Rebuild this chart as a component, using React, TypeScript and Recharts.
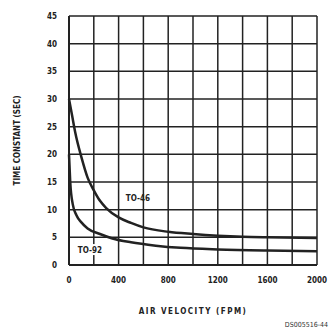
import { CartesianGrid, Line, LineChart, ReferenceDot, XAxis, YAxis } from "recharts";

// air velocity (FPM) vs time constant (sec)
const to46 = [
  { v: 0, t: 30 }, { v: 25, t: 27 }, { v: 50, t: 24 }, { v: 100, t: 19.5 },
  { v: 150, t: 15.8 }, { v: 200, t: 13.5 }, { v: 250, t: 11.6 }, { v: 300, t: 10.3 },
  { v: 400, t: 8.6 }, { v: 500, t: 7.6 }, { v: 600, t: 6.8 }, { v: 800, t: 6.0 },
  { v: 1000, t: 5.6 }, { v: 1200, t: 5.3 }, { v: 1400, t: 5.1 }, { v: 1600, t: 5.0 },
  { v: 2000, t: 4.9 },
];

const to92 = [
  { v: 0, t: 20 }, { v: 10, t: 15 }, { v: 30, t: 11 }, { v: 60, t: 9 },
  { v: 100, t: 7.7 }, { v: 150, t: 6.6 }, { v: 250, t: 5.6 }, { v: 350, t: 4.8 },
  { v: 500, t: 4.1 }, { v: 700, t: 3.5 }, { v: 900, t: 3.1 }, { v: 1200, t: 2.8 },
  { v: 1600, t: 2.6 }, { v: 2000, t: 2.5 },
];

const xTicks = [0, 200, 400, 600, 800, 1000, 1200, 1400, 1600, 1800, 2000];
const yTicks = [0, 5, 10, 15, 20, 25, 30, 35, 40, 45];

const font = "'DejaVu Sans Condensed', 'Liberation Sans', sans-serif";
const ink = "#222";

// curve name written on a white patch so the grid doesn't run through it
function BoxLabel(props: any) {
  const { viewBox, value } = props;
  const cx = viewBox.x;
  const cy = viewBox.y;
  return (
    <g>
      <rect x={cx - 16} y={cy - 6} width={32} height={11} fill="#fff" />
      <text x={cx} y={cy + 3} textAnchor="middle" fill={ink} fontSize={8} fontWeight="bold" fontFamily={font}>
        {value}
      </text>
    </g>
  );
}

export default function App() {
  return (
    <div style={{ position: "absolute", left: 0, top: 0, width: 330, height: 334, background: "#fff", fontFamily: font }}>
      <LineChart width={330} height={334} margin={{ top: 16, right: 13, left: 20, bottom: 39 }}>
        <CartesianGrid stroke={ink} strokeWidth={1.5} horizontalValues={yTicks} verticalValues={xTicks} />
        <XAxis
          dataKey="v"
          type="number"
          domain={[0, 2000]}
          ticks={xTicks}
          height={30}
          tickFormatter={(v: number) => (v % 400 === 0 ? String(v) : "")}
          tickLine={false}
          tickSize={0}
          tickMargin={12}
          stroke={ink}
          strokeWidth={2}
          tick={{ fill: ink, fontSize: 8, fontWeight: "bold", fontFamily: font }}
          allowDuplicatedCategory={false}
          label={{ value: "AIR VELOCITY (FPM)", position: "insideBottom", offset: -19, fill: ink, fontSize: 8, fontWeight: "bold", letterSpacing: 1.5, fontFamily: font }}
        />
        <YAxis
          dataKey="t"
          type="number"
          domain={[0, 45]}
          ticks={yTicks}
          width={49}
          tickLine={false}
          tickSize={0}
          tickMargin={12}
          stroke={ink}
          strokeWidth={2}
          tick={{ fill: ink, fontSize: 8, fontWeight: "bold", fontFamily: font }}
          label={{ value: "TIME CONSTANT (SEC)", angle: -90, position: "insideLeft", offset: -3, fill: ink, fontSize: 8, fontWeight: "bold", fontFamily: font, style: { textAnchor: "middle" } }}
        />
        <ReferenceDot x={169} y={2.7} r={0} label={<BoxLabel value="TO-92" />} />
        <Line data={to46} dataKey="t" type="monotone" stroke={ink} strokeWidth={2.5} dot={false} isAnimationActive={false} />
        <Line data={to92} dataKey="t" type="monotone" stroke={ink} strokeWidth={2.5} dot={false} isAnimationActive={false} />
        <ReferenceDot x={556} y={12.1} r={0} label={{ value: "TO-46", fill: ink, fontSize: 8, fontWeight: "bold", fontFamily: font }} />
      </LineChart>
      <div style={{ position: "absolute", right: 2, top: 321, fontSize: 7, color: "#333", fontFamily: font }}>DS005516-44</div>
    </div>
  );
}
